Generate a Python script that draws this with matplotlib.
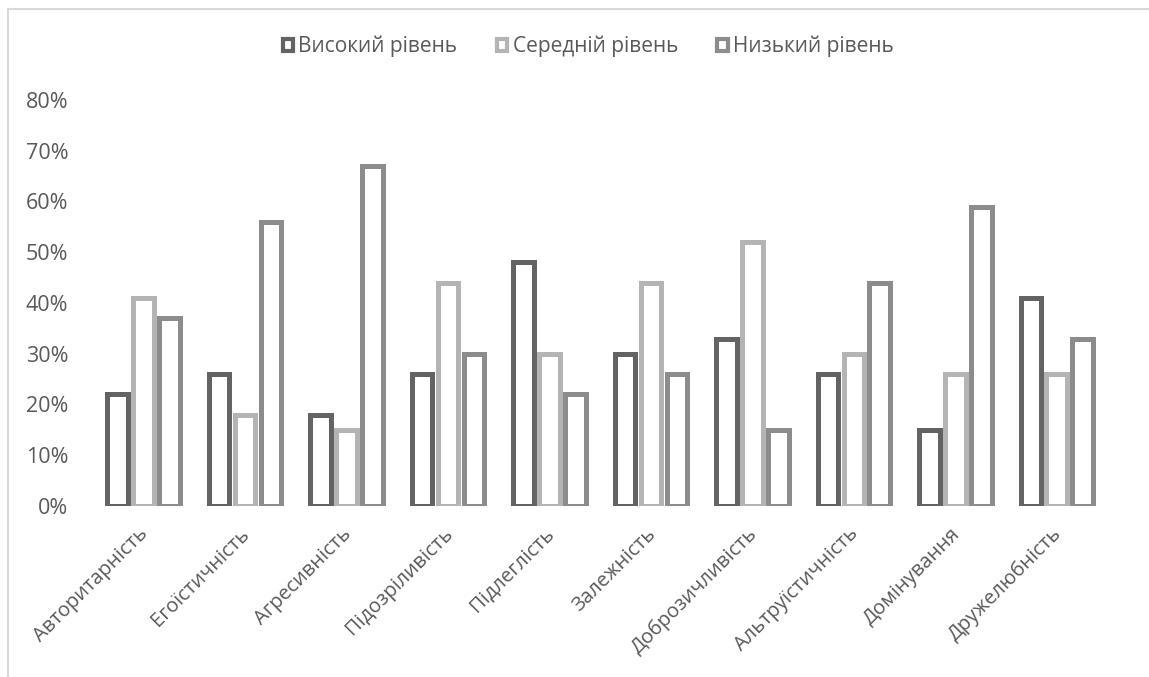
import numpy as np
import matplotlib.pyplot as plt
import matplotlib.transforms as mtransforms
from matplotlib.patches import Patch
from matplotlib.lines import Line2D
from matplotlib.ticker import PercentFormatter

plt.rcParams['font.family'] = ['Open Sans', 'DejaVu Sans']

categories = ['Авторитарність', 'Егоїстичність', 'Агресивність', 'Підозріливість',
              'Підлеглість', 'Залежність', 'Доброзичливість', 'Альтруїстичність',
              'Домінування', 'Дружелюбність']
series_names = ['Високий рівень', 'Середній рівень', 'Низький рівень']
high = [22, 26, 18, 26, 48, 30, 33, 26, 15, 41]
medium = [41, 18, 15, 44, 30, 44, 52, 30, 26, 26]
low = [37, 56, 67, 30, 22, 26, 15, 44, 59, 33]

colors = ['#636363', '#b4b4b4', '#8c8c8c']
text_color = '#595959'

fig = plt.figure(figsize=(11.49, 6.77), dpi=100)
ax = fig.add_axes([0.0807, 0.2526, 0.8833, 0.5997])

x = np.arange(len(categories))
step = 0.256
for i, (vals, col) in enumerate(zip([high, medium, low], colors)):
    ax.bar(x + (i - 1) * step, np.array(vals) / 100, width=0.205,
           facecolor='white', edgecolor=col, linewidth=3.6)

ax.set_xlim(-0.5, len(categories) - 0.5)
ax.set_ylim(0, 0.8)
ax.set_yticks(np.arange(0, 0.81, 0.1))
ax.yaxis.set_major_formatter(PercentFormatter(1.0, decimals=0))
for s in ax.spines.values():
    s.set_visible(False)
ax.tick_params(axis='y', length=0, pad=17.5, labelsize=15.5, labelcolor=text_color)
ax.tick_params(axis='x', length=0, pad=13, labelsize=14.5, labelcolor=text_color)
ax.set_xticks(x)
ax.set_xticklabels(categories, rotation=45, ha='right', va='top',
                   rotation_mode='anchor')

# nudge the rotated labels slightly left of the tick
offset = mtransforms.ScaledTranslation(-4 / 72, 0, fig.dpi_scale_trans)
for lbl in ax.get_xticklabels():
    lbl.set_transform(lbl.get_transform() + offset)

handles = [Patch(facecolor='white', edgecolor=c, linewidth=3.0) for c in colors]
fig.legend(handles, series_names, loc='center', bbox_to_anchor=(0.512, 0.931),
           ncol=3, frameon=False, fontsize=15, labelcolor=text_color,
           handlelength=0.5, handleheight=0.5, handletextpad=0.25,
           columnspacing=1.9)

# chart area border (top and left edges)
fig.add_artist(Line2D([0.007, 1.0], [0.986, 0.986], color='#d9d9d9', lw=1.5))
fig.add_artist(Line2D([0.007, 0.007], [0.0, 0.986], color='#d9d9d9', lw=1.5))

fig.savefig('out.png', dpi=100)
